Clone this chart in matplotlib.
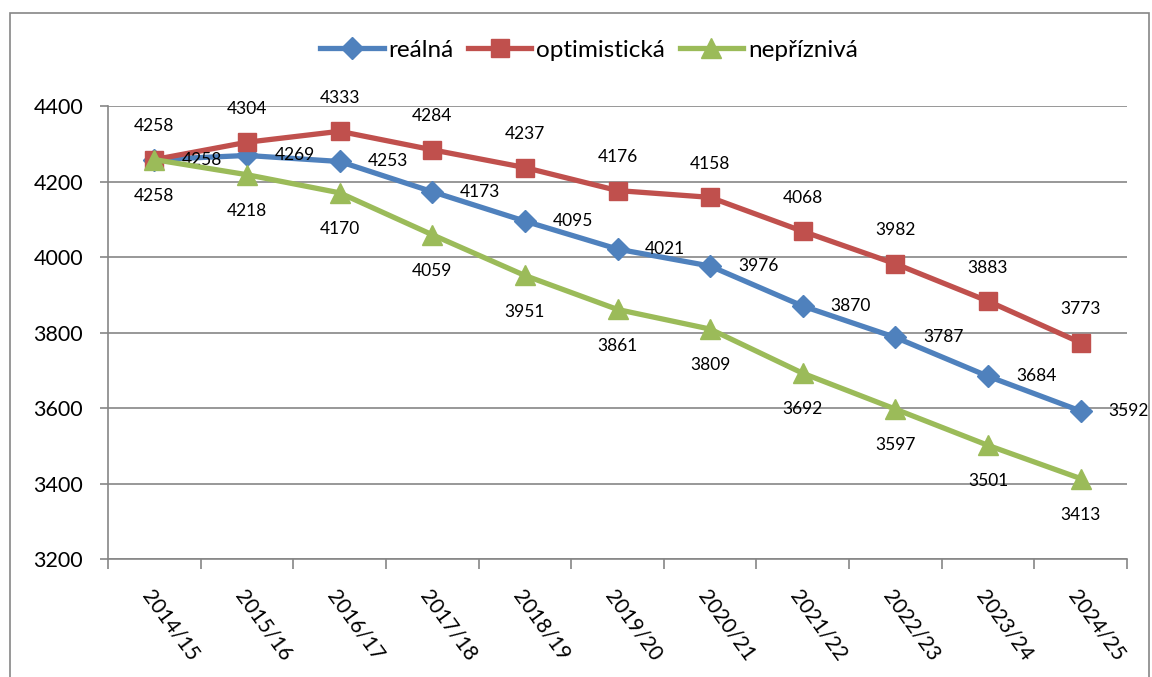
import matplotlib
matplotlib.use('Agg')
import matplotlib.pyplot as plt
from matplotlib.patches import Rectangle

# data
roky = ['2014/15', '2015/16', '2016/17', '2017/18', '2018/19', '2019/20',
        '2020/21', '2021/22', '2022/23', '2023/24', '2024/25']
realna = [4258, 4269, 4253, 4173, 4095, 4021, 3976, 3870, 3787, 3684, 3592]
optimisticka = [4258, 4304, 4333, 4284, 4237, 4176, 4158, 4068, 3982, 3883, 3773]
nepriznivа = [4258, 4218, 4170, 4059, 3951, 3861, 3809, 3692, 3597, 3501, 3413]

plt.rcParams['font.family'] = ['Lato', 'DejaVu Sans']

W, H = 1152, 677
fig = plt.figure(figsize=(W / 100, H / 100), dpi=100)
ax = fig.add_axes([108 / W, 1 - 559 / H, (1127 - 108) / W, (559 - 106) / H])

x = list(range(len(roky)))
modra = '#4F81BD'
cervena = '#C0504D'
zelena = '#9BBB59'

l1, = ax.plot(x, realna, color=modra, lw=3.8, marker='D', ms=11, zorder=3, label='reálná')
l2, = ax.plot(x, optimisticka, color=cervena, lw=3.8, marker='s', ms=13, zorder=3, label='optimistická')
l3, = ax.plot(x, nepriznivа, color=zelena, lw=3.8, marker='^', ms=14, zorder=4, label='nepříznivá')

# popisky hodnot
for i in x:
    ax.annotate(str(realna[i]), (i, realna[i]), xytext=(20, 0), textcoords='offset points',
                ha='left', va='center', fontsize=12.5)
    ax.annotate(str(optimisticka[i]), (i, optimisticka[i]), xytext=(0, 24), textcoords='offset points',
                ha='center', va='center', fontsize=12.5)
    ax.annotate(str(nepriznivа[i]), (i, nepriznivа[i]), xytext=(0, -26), textcoords='offset points',
                ha='center', va='center', fontsize=12.5)

ax.set_xlim(-0.5, len(roky) - 0.5)
ax.set_ylim(3200, 4400)
ax.set_yticks(range(3200, 4401, 200))
ax.tick_params(axis='y', labelsize=15.5, length=6, color='#868686', width=1.2, pad=12)
ax.grid(axis='y', color='#868686', lw=1.2)
ax.set_axisbelow(True)

ax.set_xticks([i - 0.5 for i in range(len(roky) + 1)])
ax.set_xticklabels([])
ax.set_xticks(x, minor=True)
ax.set_xticklabels(roky, minor=True, rotation=-54, ha='left', va='top', rotation_mode='anchor', fontsize=15)
ax.tick_params(axis='x', which='major', length=7, color='#868686', width=1.2)
ax.tick_params(axis='x', which='minor', length=0, pad=20)

for s in ['top', 'right']:
    ax.spines[s].set_visible(False)
for s in ['left', 'bottom']:
    ax.spines[s].set_color('#868686')
    ax.spines[s].set_linewidth(1.2)

fig.legend(handles=[l1, l2, l3], loc='center', bbox_to_anchor=(589 / W, 1 - 50 / H), ncol=3,
           frameon=False, fontsize=17.5, handlelength=2.6, columnspacing=0.6, handletextpad=0.2)

# ramecek grafu
fig.patches.append(Rectangle((10 / W, 0 - 5 / H), 1139 / W, (H - 13 + 5) / H, transform=fig.transFigure,
                             fill=False, edgecolor='#868686', lw=1.2))

fig.savefig('out.png', dpi=100)
